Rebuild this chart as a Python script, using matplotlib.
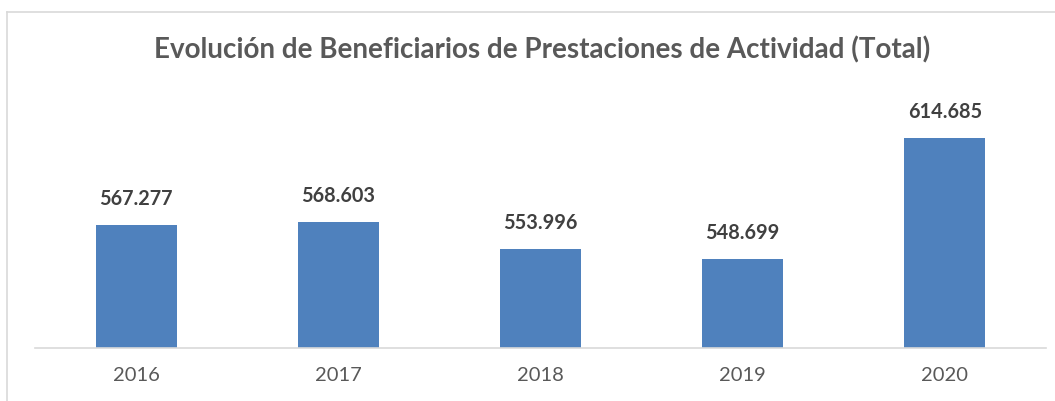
import matplotlib
matplotlib.use("Agg")
import matplotlib.pyplot as plt
from matplotlib.lines import Line2D

years = ["2016", "2017", "2018", "2019", "2020"]
beneficiarios = [567277, 568603, 553996, 548699, 614685]
etiquetas = ["567.277", "568.603", "553.996", "548.699", "614.685"]

plt.rcParams["font.family"] = ["Lato", "DejaVu Sans"]

W, H = 1055, 401
fig = plt.figure(figsize=(W / 100, H / 100), dpi=100)

# chart frame (only left and top edges visible in the crop)
fig.add_artist(Line2D([7 / W, 7 / W], [0, 1 - 11.5 / H], transform=fig.transFigure, color="#d9d9d9", lw=1.2))
fig.add_artist(Line2D([7 / W, 1], [1 - 11.5 / H, 1 - 11.5 / H], transform=fig.transFigure, color="#d9d9d9", lw=1.2))

ax = fig.add_axes([35 / W, (H - 348) / H, (1046 - 35) / W, (348 - 110) / H])
x = range(len(years))
ax.bar(x, beneficiarios, width=0.4, color="#4f81bd", zorder=2)
ax.set_ylim(500000, 630000)
ax.set_xlim(-0.5, len(years) - 0.5)

for xi, v, lab in zip(x, beneficiarios, etiquetas):
    ax.annotate(lab, (xi, v), xytext=(0, 16), textcoords="offset pixels",
                ha="center", va="bottom", fontsize=14.3, fontweight="bold", color="#404040")

ax.set_xticks(list(x))
ax.set_xticklabels(years, fontsize=14.5, color="#595959")
ax.tick_params(axis="x", length=0, pad=14)
ax.set_yticks([])
for s in ["top", "right", "left"]:
    ax.spines[s].set_visible(False)
ax.spines["bottom"].set_color("#d9d9d9")
ax.spines["bottom"].set_linewidth(1.2)

fig.text(542 / W, 1 - 50 / H, "Evolución de Beneficiarios de Prestaciones de Actividad (Total)",
         ha="center", va="center", fontsize=20, fontweight="bold", color="#595959")

fig.savefig("out.png", dpi=100)
